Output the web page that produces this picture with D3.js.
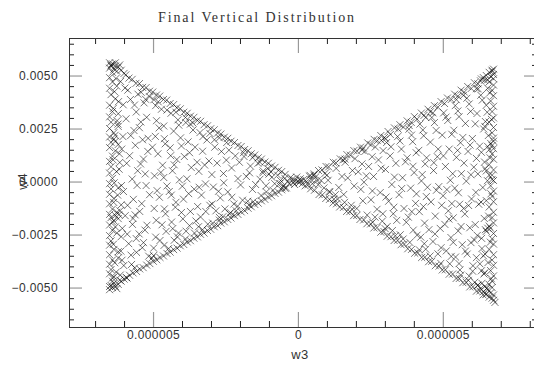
<!DOCTYPE html>
<html>
<head>
<meta charset="utf-8">
<script src="https://cdn.jsdelivr.net/npm/d3@7"></script>
<style>
  body { margin: 0; background: #fff; }
  text { font-family: "Liberation Sans", Arial, sans-serif; fill: #333; }
</style>
</head>
<body>
<svg id="chart" width="534" height="370"></svg>
<script>
// values: w3 in units of 1e-6, w4 in units of 1e-3
const leftWall = [
  [-6.5,5.6],[-6.4,5.55],[-6.45,5.5],[-6.3,5.45],[-6.2,5.4],[-6.35,5.3],[-6.5,5.35],[-6.1,5.25],[-6.25,5.2],[-6.4,5.15],
  [-6.0,5.1],[-6.45,5.45],[-6.3,5.6],[-6.15,5.5],[-6.5,4.9],[-6.4,4.7],[-6.5,4.4],[-6.45,4.1],[-6.3,3.9],[-6.5,3.6],
  [-6.4,3.3],[-6.5,3.05],[-6.45,2.8],[-6.5,2.5],[-6.35,2.3],[-6.5,2.1],[-6.45,1.85],[-6.5,1.6],[-6.3,1.45],[-6.4,1.2],
  [-6.5,0.95],[-6.45,0.7],[-6.5,0.4],[-6.4,0.15],[-6.5,-0.1],[-6.45,-0.35],[-6.5,-0.6],[-6.35,-0.8],[-6.5,-1.05],[-6.4,-1.3],
  [-6.5,-1.55],[-6.45,-1.7],[-6.35,-1.85],[-6.5,-2.05],[-6.4,-2.3],[-6.5,-2.55],[-6.45,-2.8],[-6.5,-3.0],[-6.35,-3.2],[-6.5,-3.45],
  [-6.4,-3.7],[-6.5,-3.9],[-6.45,-4.15],[-6.5,-4.35],[-6.35,-4.5],[-6.4,-4.7],[-6.3,1.9],[-6.2,1.75],[-6.35,2.0],[-6.3,-1.6],
  [-6.25,-1.45],[-6.4,-1.9],[-6.2,-1.75],[-6.5,-5.1],[-6.4,-5.0],[-6.45,-4.9],[-6.3,-4.95],[-6.2,-4.85],[-6.35,-4.8],[-6.1,-4.7],
  [-6.5,-4.95],[-6.0,-4.6],[-5.9,-4.55],[-6.25,-5.05],[-6.15,-4.65],[-6.4,-4.55],[-6.2,3.2],[-6.15,0.9],[-6.2,-0.3],[-6.1,-2.6],
  [-6.2,-3.6],[-6.25,4.5],[-6.2,2.6],[-6.1,-1.1],
  [-6.28,4.86],[-6.33,4.24],[-6.19,3.77],[-6.37,3.45],[-6.24,2.87],[-6.31,2.18],[-6.16,1.31],[-6.38,1.02],[-6.26,0.47],[-6.34,-0.06],
  [-6.22,-0.64],[-6.36,-0.98],[-6.18,-1.56],[-6.3,-2.14],[-6.25,-2.43],[-6.37,-2.96],[-6.2,-3.31],[-6.32,-3.83],[-6.27,-4.27],[-6.13,-4.41]
]
const rightWall = [
  [6.75,5.3],[6.7,5.2],[6.6,5.15],[6.75,5.05],[6.5,5.0],[6.65,4.95],[6.4,4.9],[6.75,4.85],[6.55,4.8],[6.3,4.75],
  [6.7,5.25],[6.6,4.7],[6.75,4.55],[6.7,4.3],[6.75,4.05],[6.65,3.8],[6.75,3.55],[6.7,3.3],[6.75,3.0],[6.6,2.8],
  [6.75,2.55],[6.7,2.3],[6.75,2.05],[6.65,1.8],[6.75,1.55],[6.7,1.3],[6.75,1.05],[6.6,0.8],[6.75,0.55],[6.7,0.3],
  [6.75,0.05],[6.65,-0.2],[6.75,-0.45],[6.7,-0.7],[6.75,-0.95],[6.6,-1.2],[6.75,-1.45],[6.7,-1.7],[6.75,-1.95],[6.65,-2.2],
  [6.75,-2.45],[6.7,-2.7],[6.75,-2.95],[6.6,-3.2],[6.75,-3.45],[6.7,-3.7],[6.75,-3.95],[6.65,-4.2],[6.75,-4.45],[6.7,-4.7],
  [6.7,1.7],[6.6,1.5],[6.75,1.9],[6.55,1.65],[6.6,0.3],[6.7,0.1],[6.5,0.5],[6.55,-2.2],[6.5,-2.35],[6.6,-2.1],
  [6.8,-5.7],[6.75,-5.6],[6.7,-5.5],[6.6,-5.45],[6.75,-5.35],[6.5,-5.3],[6.65,-5.25],[6.4,-5.2],[6.55,-5.1],[6.3,-5.05],
  [6.7,-5.0],[6.45,-4.95],[6.2,-4.9],[6.6,-4.85],[6.35,-4.8],[6.1,-4.75],[6.5,3.6],[6.45,2.6],[6.5,-0.9],[6.4,-3.5],
  [6.55,4.4],[6.45,-4.3],
  [6.62,4.18],[6.53,3.27],[6.68,2.93],[6.57,2.17],[6.63,1.12],[6.54,0.04],[6.66,-0.58],[6.58,-1.63],[6.64,-2.86],[6.56,-3.82],
  [6.67,-4.58],[6.52,-5.03]
]
const leftUpperEdge = [
  [-5.94,5.03],[-5.83,4.88],[-5.72,4.82],[-5.59,4.63],[-5.47,4.62],[-5.36,4.44],[-5.24,4.43],[-5.12,4.26],[-5.01,4.22],[-4.88,4.08],
  [-4.77,4.03],[-4.64,3.87],[-4.53,3.84],[-4.41,3.68],[-4.29,3.63],[-4.18,3.48],[-4.06,3.43],[-3.94,3.27],[-3.82,3.22],[-3.71,3.08],
  [-3.59,3.03],[-3.47,2.88],[-3.36,2.84],[-3.24,2.68],[-3.12,2.63],[-3.01,2.49],[-2.89,2.44],[-2.77,2.29],[-2.66,2.24],[-2.54,2.09],
  [-2.42,2.04],[-2.31,1.9],[-2.19,1.84],[-2.07,1.7],[-1.96,1.65],[-1.84,1.51],[-1.72,1.45],[-1.61,1.31],[-1.49,1.25],[-1.37,1.12],
  [-1.26,1.06],[-1.14,0.92],[-1.02,0.86],[-0.91,0.73],[-0.79,0.67],[-0.67,0.53],[-0.56,0.47],[-0.44,0.34],[-5.41,4.21],[-4.82,3.76],
  [-4.21,3.27],[-3.63,2.77],[-3.04,2.27],[-2.46,1.84],[-1.88,1.36],[-1.31,0.91],[-5.12,4.0],[-3.88,3.02],[-2.71,2.06],[-1.56,1.13]
]
const leftLowerEdge = [
  [-5.92,-4.53],[-5.81,-4.42],[-5.69,-4.31],[-5.57,-4.24],[-5.46,-4.12],[-5.34,-4.06],[-5.22,-3.94],[-5.11,-3.87],[-4.99,-3.76],[-4.87,-3.69],
  [-4.76,-3.58],[-4.64,-3.51],[-4.52,-3.39],[-4.41,-3.33],[-4.29,-3.21],[-4.17,-3.14],[-4.06,-3.03],[-3.94,-2.97],[-3.82,-2.85],[-3.71,-2.79],
  [-3.59,-2.67],[-3.47,-2.61],[-3.36,-2.49],[-3.24,-2.43],[-3.12,-2.31],[-3.01,-2.25],[-2.89,-2.13],[-2.77,-2.08],[-2.66,-1.96],[-2.54,-1.9],
  [-2.42,-1.79],[-2.31,-1.72],[-2.19,-1.61],[-2.07,-1.55],[-1.96,-1.43],[-1.84,-1.37],[-1.72,-1.26],[-1.61,-1.19],[-1.49,-1.08],[-1.37,-1.02],
  [-1.26,-0.91],[-1.14,-0.84],[-1.02,-0.73],[-0.91,-0.67],[-0.79,-0.56],[-0.67,-0.5],[-0.56,-0.39],[-0.44,-0.32],[-5.63,-4.07],[-5.04,-3.61],
  [-4.46,-3.16],[-3.88,-2.71],[-3.29,-2.27],[-2.71,-1.82],[-2.13,-1.38],[-1.54,-0.95],[-4.98,-3.49],[-3.57,-2.43],[-2.94,-1.96],[-2.36,-1.52]
]
const rightUpperEdge = [
  [0.42,0.29],[0.56,0.36],[0.71,0.52],[0.83,0.55],[0.97,0.71],[1.06,0.69],[1.22,0.91],[1.31,0.88],[1.46,1.07],[1.55,1.02],
  [1.69,1.27],[1.81,1.24],[1.93,1.46],[2.04,1.43],[2.16,1.62],[2.26,1.58],[2.41,1.82],[2.52,1.74],[2.63,1.99],[2.74,1.93],
  [2.86,2.17],[2.99,2.08],[3.11,2.36],[3.19,2.22],[3.33,2.53],[3.46,2.47],[3.52,2.68],[3.64,2.57],[3.77,2.86],[3.91,2.79],
  [4.02,3.06],[4.11,2.94],[4.26,3.23],[4.35,3.12],[4.49,3.41],[4.57,3.29],[4.71,3.58],[4.83,3.51],[4.94,3.77],[5.06,3.68],
  [5.16,3.94],[5.29,3.87],[5.41,4.12],[5.52,4.03],[5.63,4.31],[5.74,4.22],[5.86,4.48],[5.98,4.39],[6.09,4.66],[6.21,4.61],
  [6.33,4.84],[6.44,4.78],[2.21,1.48],[3.02,2.01],[3.84,2.64],[4.66,3.24],[5.47,3.86],[6.16,4.38],[1.62,1.06],[2.88,1.94],
  [4.41,3.02],[5.71,4.06]
]
const rightLowerEdge = [
  [0.44,-0.34],[0.57,-0.41],[0.73,-0.61],[0.84,-0.63],[0.96,-0.8],[1.09,-0.84],[1.21,-1.01],[1.33,-1.05],[1.44,-1.2],[1.57,-1.22],
  [1.68,-1.41],[1.79,-1.42],[1.92,-1.61],[2.03,-1.6],[2.14,-1.79],[2.27,-1.81],[2.38,-1.99],[2.51,-2.0],[2.62,-2.19],[2.73,-2.17],
  [2.86,-2.39],[2.97,-2.36],[3.08,-2.58],[3.21,-2.6],[3.32,-2.78],[3.44,-2.77],[3.56,-2.98],[3.67,-2.95],[3.79,-3.17],[3.92,-3.2],
  [4.03,-3.38],[4.14,-3.36],[4.27,-3.58],[4.38,-3.57],[4.51,-3.78],[4.62,-3.76],[4.74,-3.97],[4.87,-3.99],[4.98,-4.17],[5.09,-4.16],
  [5.22,-4.37],[5.34,-4.36],[5.46,-4.57],[5.57,-4.57],[5.69,-4.77],[5.81,-4.75],[5.93,-4.97],[6.04,-4.96],[6.16,-5.17],[6.28,-5.16],
  [6.39,-5.35],[6.49,-5.33],[1.87,-1.31],[2.58,-1.92],[3.36,-2.56],[4.19,-3.22],[4.93,-3.86],[5.62,-4.41],[6.21,-4.88],[1.24,-0.83],
  [3.01,-2.22],[4.56,-3.51],[5.88,-4.66]
]
const core = [
  [-0.9,0.2],[-0.8,-0.1],[-0.7,0.3],[-0.6,0.05],[-0.5,-0.2],[-0.45,0.15],[-0.35,0.0],[-0.3,-0.1],[-0.2,0.1],[-0.15,-0.05],
  [-0.1,0.05],[0.0,0.0],[0.05,-0.05],[0.1,0.05],[0.15,-0.1],[0.2,0.1],[0.3,0.0],[0.35,-0.15],[0.45,0.1],[0.5,-0.1],
  [0.6,0.2],[0.7,-0.15],[0.8,0.05],[0.9,-0.3],[-1.0,0.35],[-1.1,-0.2],[-0.25,0.2],[0.25,-0.2],[0.55,0.3],[-0.55,-0.3],
  [1.0,0.3],[1.1,-0.5],[-1.2,0.5],[-0.4,-0.3],[0.4,0.25],[-0.12,-0.14],[0.08,0.13],[-0.63,-0.09],[0.66,0.04],[-0.04,0.21]
]
const leftInner = [
  [-6.12,4.72],[-5.87,4.31],[-6.03,3.62],[-5.78,3.87],[-5.93,2.96],[-6.21,2.71],[-5.66,2.41],[-6.08,1.53],[-5.81,1.22],[-6.17,0.58],
  [-5.72,0.12],[-6.02,-0.47],[-5.88,-1.12],[-6.14,-1.38],[-5.69,-1.74],[-6.06,-2.21],[-5.84,-2.93],[-6.11,-3.28],[-5.76,-3.47],[-6.01,-3.96],
  [-5.52,4.12],[-5.31,3.71],[-5.58,3.28],[-5.22,3.03],[-5.47,2.54],[-5.36,1.97],[-5.61,1.71],[-5.18,1.42],[-5.43,0.83],[-5.27,0.36],
  [-5.55,-0.18],[-5.12,-0.62],[-5.39,-1.04],[-5.62,-1.57],[-5.21,-2.06],[-5.48,-2.47],[-5.33,-2.88],[-5.57,-3.34],[-5.15,-3.52],
  [-4.97,3.86],[-4.71,3.41],[-4.88,2.87],[-4.63,2.62],[-4.92,2.13],[-4.58,1.78],[-4.83,1.31],[-4.67,0.77],[-4.95,0.27],[-4.52,-0.21],
  [-4.78,-0.74],[-4.61,-1.29],[-4.89,-1.83],[-4.55,-2.35],[-4.76,-2.78],[-4.98,-3.14],
  [-4.38,3.22],[-4.14,2.91],[-4.29,2.38],[-4.05,2.06],[-4.41,1.59],[-4.18,1.04],[-4.33,0.51],[-4.09,0.08],[-4.44,-0.47],[-4.21,-0.98],
  [-4.02,-1.46],[-4.36,-1.91],[-4.12,-2.43],[-4.27,-2.77],
  [-3.87,2.78],[-3.62,2.43],[-3.79,1.87],[-3.55,1.62],[-3.92,1.18],[-3.68,0.66],[-3.83,0.13],[-3.58,-0.36],[-3.95,-0.83],[-3.71,-1.41],
  [-3.52,-1.86],[-3.86,-2.34],
  [-3.38,2.31],[-3.14,1.96],[-3.29,1.43],[-3.07,0.97],[-3.42,0.48],[-3.19,-0.11],[-3.33,-0.64],[-3.04,-1.12],[-3.36,-1.67],[-3.11,-2.01],
  [-2.88,1.97],[-2.64,1.42],[-2.79,0.87],[-2.57,0.38],[-2.92,-0.26],[-2.68,-0.77],[-2.83,-1.38],[-2.59,-1.66],
  [-2.38,1.48],[-2.16,1.21],[-2.29,0.64],[-2.07,0.14],[-2.42,-0.49],[-2.21,-1.06],[-2.33,-1.47],
  [-1.86,1.18],[-1.64,0.73],[-1.78,0.24],[-1.57,-0.37],[-1.91,-0.88],[-1.69,-1.11],
  [-1.38,0.86],[-1.21,0.41],[-1.46,-0.14],[-1.27,-0.66],[-0.93,0.46],[-0.86,-0.41]
]
const leftInner2 = [
  [-5.97,4.41],[-6.04,2.12],[-5.91,0.86],[-6.09,-0.19],[-5.96,-1.61],[-5.89,-2.48],[-6.07,-3.71],
  [-5.64,3.61],[-5.77,2.17],[-5.53,0.51],[-5.68,-0.84],[-5.71,-2.02],[-5.58,-2.69],[-5.74,-3.91],
  [-5.26,3.88],[-5.42,2.81],[-5.17,2.04],[-5.33,1.06],[-5.24,-0.19],[-5.46,-1.41],[-5.28,-2.29],[-5.37,-3.12],
  [-4.91,3.58],[-4.79,2.53],[-5.02,1.62],[-4.73,0.43],[-4.86,-0.43],[-4.96,-1.27],[-4.69,-2.04],[-4.91,-2.62],
  [-4.52,3.37],[-4.61,2.02],[-4.39,1.22],[-4.63,0.19],[-4.37,-0.64],[-4.57,-1.52],[-4.32,-2.22],[-4.62,-3.01],
  [-4.11,2.66],[-4.02,1.68],[-4.27,0.79],[-3.99,-0.22],[-4.23,-1.21],[-3.97,-1.76],[-4.16,-2.61],
  [-3.71,2.71],[-3.74,1.36],[-3.48,0.91],[-3.77,-0.57],[-3.46,-1.18],[-3.74,-2.08],
  [-3.28,2.12],[-3.22,0.78],[-3.41,-0.27],[-3.18,-1.41],[-3.43,-2.13],
  [-2.87,1.62],[-2.97,0.33],[-2.74,-0.46],[-2.96,-1.06],[-2.71,-1.69],
  [-2.47,1.01],[-2.56,-0.06],[-2.28,-0.74],[-2.52,-1.29],
  [-2.02,0.91],[-1.98,-0.16],[-2.08,-1.16],[-1.67,0.41],[-1.73,-0.93],[-1.31,0.11],[-1.09,-0.49],[-1.04,0.62]
]
const rightInner = [
  [0.93,0.38],[1.08,-0.47],[1.32,0.62],[1.41,-0.28],[1.37,-0.83],[1.63,0.91],[1.72,0.17],[1.58,-0.61],[1.84,-1.12],[1.97,1.08],
  [2.08,0.46],[2.17,-0.37],[2.03,-1.27],[2.31,1.42],[2.44,0.71],[2.28,-0.03],[2.52,-0.86],[2.39,-1.58],[2.67,1.63],[2.78,1.02],
  [2.61,0.24],[2.84,-0.52],[2.73,-1.31],[2.91,-1.87],[3.06,1.84],[3.18,1.21],[3.02,0.57],[3.24,-0.14],[3.13,-0.93],[3.29,-1.52],
  [3.08,-2.12],[3.44,2.12],[3.57,1.53],[3.38,0.86],[3.61,0.18],[3.49,-0.62],[3.66,-1.27],[3.41,-1.83],[3.53,-2.51],
  [3.83,2.47],[3.96,1.88],[3.77,1.12],[4.01,0.42],[3.89,-0.31],[4.06,-1.03],[3.81,-1.68],[3.98,-2.29],[3.86,-2.87],
  [4.21,2.71],[4.34,2.16],[4.17,1.47],[4.39,0.83],[4.26,0.03],[4.43,-0.71],[4.19,-1.42],[4.37,-1.96],[4.24,-2.62],[4.41,-3.19],
  [4.62,3.02],[4.77,2.41],[4.57,1.86],[4.81,1.17],[4.68,0.52],[4.86,-0.24],[4.59,-0.96],[4.74,-1.63],[4.91,-2.21],[4.66,-2.83],[4.83,-3.41],
  [5.03,3.24],[5.17,2.88],[4.98,2.19],[5.22,1.53],[5.09,0.71],[5.26,0.06],[5.01,-0.67],[5.19,-1.38],[5.07,-2.02],[5.28,-2.64],[5.12,-3.27],[5.24,-3.88],
  [5.43,3.58],[5.56,3.06],[5.38,2.42],[5.61,1.83],[5.47,1.14],[5.64,0.37],[5.41,-0.31],[5.58,-1.07],[5.36,-1.71],[5.53,-2.33],[5.67,-2.98],[5.44,-3.56],[5.59,-4.17],
  [5.83,3.93],[5.96,3.31],[5.78,2.74],[6.02,2.03],[5.87,1.42],[6.07,0.68],[5.81,0.02],[5.99,-0.82],[5.76,-1.53],[5.93,-2.18],[6.09,-2.76],[5.84,-3.42],[6.04,-3.97],[5.91,-4.46],
  [6.22,4.37],[6.36,3.84],[6.18,3.21],[6.41,2.48],[6.27,1.67],[6.44,0.92],[6.21,0.36],[6.38,-0.28],[6.24,-1.07],[6.43,-1.74],[6.19,-2.54],[6.35,-3.16],[6.28,-3.88],[6.42,-4.36]
]
const rightInner2 = [
  [1.04,0.06],[1.29,-0.62],[1.52,0.24],[1.61,-0.98],[1.88,0.52],[1.94,-0.21],[2.21,0.83],[2.24,-0.91],[2.36,0.27],[2.56,1.17],
  [2.57,-0.44],[2.66,-1.68],[2.94,1.46],[2.87,0.63],[3.04,-0.73],[2.93,-1.52],[3.21,1.64],[3.33,0.21],[3.31,-1.21],[3.26,-2.31],
  [3.52,1.91],[3.71,0.93],[3.58,-0.33],[3.74,-1.92],[3.63,-2.71],
  [3.92,2.19],[4.08,1.36],[3.97,0.72],[4.09,-0.58],[3.93,-1.42],[4.11,-2.53],
  [4.31,2.43],[4.44,1.12],[4.29,0.33],[4.47,-0.27],[4.33,-1.18],[4.52,-2.27],[4.36,-2.93],
  [4.71,2.78],[4.84,1.53],[4.69,0.89],[4.78,-0.41],[4.96,-1.12],[4.73,-2.47],[4.94,-3.12],
  [5.11,3.04],[5.31,2.23],[5.02,1.21],[5.34,0.37],[5.14,-0.38],[5.31,-1.04],[5.21,-1.77],[5.36,-2.87],[5.29,-3.53],
  [5.52,3.33],[5.69,2.08],[5.51,1.47],[5.73,0.87],[5.54,-0.53],[5.72,-1.27],[5.63,-2.12],[5.78,-3.28],[5.56,-3.87],
  [5.91,3.66],[6.12,2.72],[5.94,1.72],[6.16,1.09],[5.97,0.32],[6.14,-0.51],[5.89,-1.13],[6.12,-2.03],[5.97,-2.88],[6.16,-3.59],[6.03,-4.23],
  [6.31,4.07],[6.47,2.83],[6.33,1.38],[6.46,0.61],[6.32,-0.97],[6.47,-2.27],[6.34,-2.68],[6.46,-3.42],[6.33,-4.21]
]

const xTickValues = [-5e-6, 0, 5e-6]
const xTickLabels = ['0.000005', '0', '0.000005']
const xMinorTicks = [-7e-6, -6e-6, -4e-6, -3e-6, -2e-6, -1e-6, 1e-6, 2e-6, 3e-6, 4e-6, 6e-6, 7e-6, 8e-6]
const yTickValues = [-0.005, -0.0025, 0, 0.0025, 0.005]
const yMinorTicks = [-0.0065, -0.006, -0.0055, -0.0045, -0.004, -0.0035, -0.003, -0.002, -0.0015, -0.001, -0.0005,
  0.0005, 0.001, 0.0015, 0.002, 0.003, 0.0035, 0.004, 0.0045, 0.0055, 0.006, 0.0065]

const points = [].concat(leftWall, rightWall, leftUpperEdge, leftLowerEdge, rightUpperEdge, rightLowerEdge,
  core, leftInner, leftInner2, rightInner, rightInner2)
  .map((d) => ({ w3: d[0] * 1e-6, w4: d[1] * 1e-3 }))

const svg = d3.select('#chart')
const margin = { left: 69, top: 38, right: 537, bottom: 327 }

const x = d3.scaleLinear().domain([-7.9e-6, 8.25e-6]).range([margin.left, margin.right])
const y = d3.scaleLinear().domain([-0.00686, 0.00677]).range([margin.bottom, margin.top])

// ticks point inward on all four sides
function addAxis(axis, transform, cls) {
  const g = svg.append('g').attr('transform', transform).attr('class', cls).call(axis)
  g.select('.domain').remove()
  return g
}

addAxis(d3.axisBottom(x).tickValues(xMinorTicks).tickSize(-6).tickFormat(''), `translate(0,${margin.bottom})`, 'minor')
addAxis(d3.axisTop(x).tickValues(xMinorTicks).tickSize(-6).tickFormat(''), `translate(0,${margin.top})`, 'minor')
addAxis(d3.axisLeft(y).tickValues(yMinorTicks).tickSize(-5).tickFormat(''), `translate(${margin.left},0)`, 'minor')
addAxis(d3.axisRight(y).tickValues(yMinorTicks).tickSize(-5).tickFormat(''), `translate(${margin.right},0)`, 'minor')

addAxis(
  d3.axisBottom(x).tickValues(xTickValues).tickSize(-15).tickPadding(3).tickFormat((d, i) => xTickLabels[i]),
  `translate(0,${margin.bottom})`, 'major')
addAxis(d3.axisTop(x).tickValues(xTickValues).tickSize(-15).tickFormat(''), `translate(0,${margin.top})`, 'major')
addAxis(
  d3.axisLeft(y).tickValues(yTickValues).tickSize(-13).tickPadding(11).tickFormat(d3.format('.4f')),
  `translate(${margin.left},0)`, 'major')
addAxis(d3.axisRight(y).tickValues(yTickValues).tickSize(-13).tickFormat(''), `translate(${margin.right},0)`, 'major')

svg.selectAll('.minor line').attr('stroke', '#222')
svg.selectAll('.major line').attr('stroke', '#999').attr('stroke-width', 1.2)
svg.selectAll('.tick text').attr('font-size', 12).attr('fill', '#333').style('letter-spacing', '0.4px')

svg.append('rect')
  .attr('x', margin.left + 0.5)
  .attr('y', margin.top + 0.5)
  .attr('width', margin.right - margin.left)
  .attr('height', margin.bottom - margin.top)
  .attr('fill', 'none')
  .attr('stroke', '#333')

const s = 3.5
svg.append('g')
  .attr('stroke', '#000')
  .attr('stroke-opacity', 0.6)
  .attr('stroke-width', 0.9)
  .selectAll('path')
  .data(points)
  .join('path')
  .attr('d', (d) => {
    const px = x(d.w3)
    const py = y(d.w4)
    return `M${px - s},${py - s}L${px + s},${py + s}M${px - s},${py + s}L${px + s},${py - s}`
  })

svg.append('text')
  .attr('x', 257)
  .attr('y', 22)
  .attr('text-anchor', 'middle')
  .attr('font-size', 14)
  .style('font-family', '"Liberation Serif", serif')
  .style('letter-spacing', '1.9px')
  .text('Final Vertical Distribution')

svg.append('text')
  .attr('x', 300)
  .attr('y', 359)
  .attr('text-anchor', 'middle')
  .attr('font-size', 13)
  .style('letter-spacing', '0.5px')
  .text('w3')

svg.append('text')
  .attr('transform', `translate(27,${y(0)}) rotate(-90)`)
  .attr('text-anchor', 'middle')
  .attr('font-size', 13)
  .text('w4')
</script>
</body>
</html>
